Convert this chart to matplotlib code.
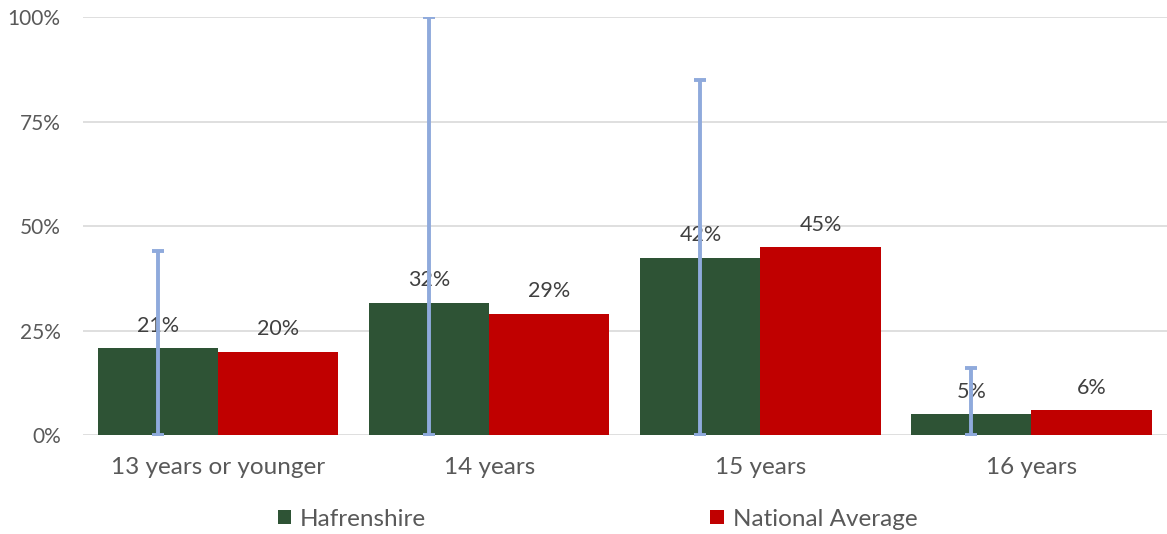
import numpy as np
import matplotlib.pyplot as plt
from matplotlib.ticker import FuncFormatter

# datos
categorias = ['13 years or younger', '14 years', '15 years', '16 years']
hafrenshire = [20.8, 31.7, 42.4, 5.0]
nacional = [20.0, 29.0, 45.0, 6.0]
etiq_haf = ['21%', '32%', '42%', '5%']
etiq_nac = ['20%', '29%', '45%', '6%']
limite_sup = [44.0, 100.0, 85.0, 16.0]

plt.rcParams['font.family'] = ['Lato', 'DejaVu Sans']

fig = plt.figure(figsize=(11.67, 5.34), dpi=100)
ax = fig.add_axes([0.071, 0.185, 0.929, 0.783])

x = np.arange(len(categorias))
ancho = 0.443

b1 = ax.bar(x - ancho / 2, hafrenshire, ancho, color='#2E5335', label='Hafrenshire', zorder=2)
b2 = ax.bar(x + ancho / 2, nacional, ancho, color='#C00000', label='National Average', zorder=2)

# barras de error: desde 0 hasta el limite superior
err = [hafrenshire, [s - v for s, v in zip(limite_sup, hafrenshire)]]
ax.errorbar(x - ancho / 2, hafrenshire, yerr=err, fmt='none', ecolor='#8FAADC',
            elinewidth=2.8, capsize=4.5, capthick=2.8, zorder=4)

for barras, etiq in [(b1, etiq_haf), (b2, etiq_nac)]:
    for b, t in zip(barras, etiq):
        ax.annotate(t, (b.get_x() + b.get_width() / 2, b.get_height()),
                    xytext=(0, 9), textcoords='offset points', ha='center', va='bottom',
                    fontsize=15.5, color='#404040', zorder=3)

ax.set_xlim(-0.5, 3.5)
ax.set_ylim(0, 100)
ax.set_yticks([0, 25, 50, 75, 100])
ax.yaxis.set_major_formatter(FuncFormatter(lambda v, p: f'{v:.0f}%'))
ax.set_xticks(x)
ax.set_xticklabels(categorias)
ax.tick_params(axis='both', length=0, colors='#595959')
ax.tick_params(axis='x', labelsize=17.5, pad=16)
ax.tick_params(axis='y', labelsize=15, pad=16)
ax.grid(axis='y', color='#D9D9D9', linewidth=1.2, zorder=0)
ax.set_axisbelow(True)
for s in ax.spines.values():
    s.set_visible(False)

fig.legend(loc='center', bbox_to_anchor=(0.512, 0.028), ncol=2, frameon=False,
           fontsize=17.5, labelcolor='#595959', columnspacing=11.7,
           handlelength=0.55, handleheight=0.55, handletextpad=0.37)

fig.savefig('out.png', dpi=100)
